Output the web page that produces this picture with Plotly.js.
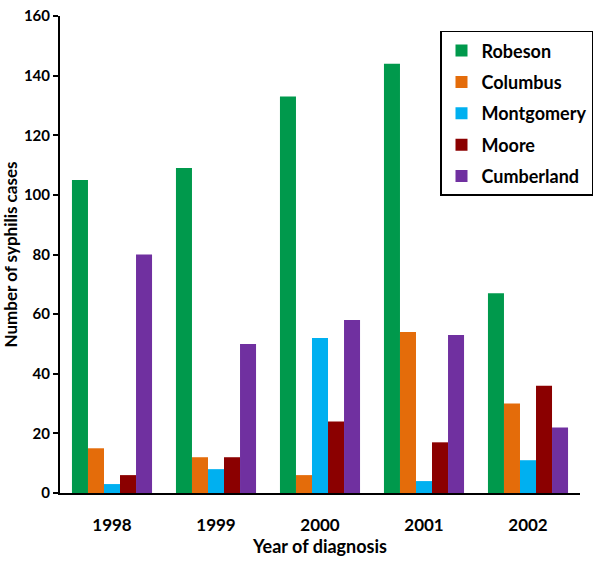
<!DOCTYPE html>
<html>
<head>
<meta charset="utf-8">
<script src="https://cdn.plot.ly/plotly-3.0.1.min.js"></script>
<style>
  body { margin: 0; background: #fff; }
  #chart { width: 600px; height: 565px; }
</style>
</head>
<body>
<div id="chart"></div>
<script>
/* ----- Data ----- */
var years = ['1998', '1999', '2000', '2001', '2002'];
var robeson = [105, 109, 133, 144, 67];
var columbus = [15, 12, 6, 54, 30];
var montgomery = [3, 8, 52, 4, 11];
var moore = [6, 12, 24, 17, 36];
var cumberland = [80, 50, 58, 53, 22];

var countyNames = ['Robeson', 'Columbus', 'Montgomery', 'Moore', 'Cumberland'];
var countyValues = [robeson, columbus, montgomery, moore, cumberland];
var countyColors = ['#00994C', '#E46C0A', '#00B0F0', '#8B0000', '#7030A0'];

/* ----- Traces ----- */
var data = [];
for (var i = 0; i < countyNames.length; i++) {
    data.push({
        type: 'bar',
        name: countyNames[i],
        x: years,
        y: countyValues[i],
        legendgroup: 'g' + i,
        marker: {color: countyColors[i], line: {width: 0}}
    });
}

var font = 'Lato, "Open Sans", sans-serif';

var layout = {
    width: 600,
    height: 565,
    margin: {l: 60, r: 20, t: 16, b: 72, autoexpand: false},
    paper_bgcolor: '#fff',
    plot_bgcolor: '#fff',
    barmode: 'group',
    bargap: 0.23,
    bargroupgap: 0,
    font: {family: font, color: '#000'},
    showlegend: true,
    legend: {
        x: 1.025,
        y: 0.969,
        xanchor: 'right',
        yanchor: 'top',
        bordercolor: '#000',
        borderwidth: 1.5,
        bgcolor: '#fff',
        traceorder: 'grouped',
        tracegroupgap: 5,
        itemwidth: 30,
        font: {family: font, size: 18, color: '#000', weight: 'bold'}
    },
    xaxis: {
        showline: true,
        linecolor: '#000',
        linewidth: 2,
        ticks: '',
        showgrid: false,
        zeroline: false,
        tickfont: {family: font, size: 17, color: '#000', weight: 'bold'},
        ticklabelstandoff: 16,
        title: {
            text: 'Year of diagnosis',
            font: {family: font, size: 18, color: '#000', weight: 'bold'},
            standoff: 4
        }
    },
    yaxis: {
        range: [0, 160],
        dtick: 20,
        showline: true,
        linecolor: '#000',
        linewidth: 2,
        ticks: 'outside',
        ticklen: 5,
        tickwidth: 2,
        tickcolor: '#000',
        showgrid: false,
        zeroline: false,
        tickfont: {family: font, size: 15, color: '#000', weight: 'bold'},
        title: {
            text: 'Number of syphilis cases',
            font: {family: font, size: 17, color: '#000', weight: 'bold'},
            standoff: 6
        }
    }
};

Plotly.newPlot('chart', data, layout, {staticPlot: true});
</script>
</body>
</html>
